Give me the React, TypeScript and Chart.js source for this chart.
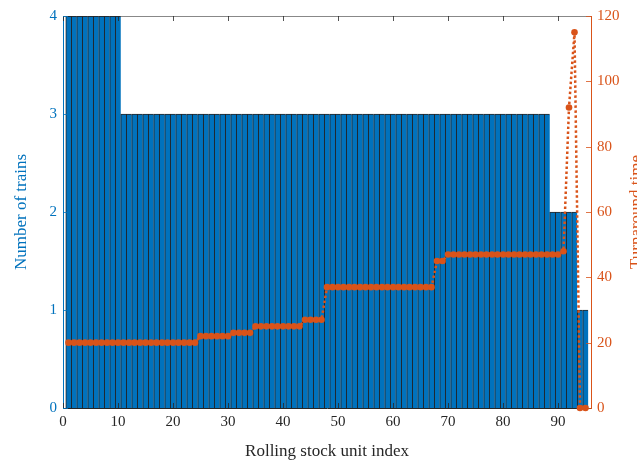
import React, { useEffect, useRef } from "react";
import { Chart, registerables } from "chart.js";

Chart.register(...registerables);

const unitIndex = [
  1, 2, 3, 4, 5, 6, 7, 8, 9, 10,
  11, 12, 13, 14, 15, 16, 17, 18, 19, 20,
  21, 22, 23, 24, 25, 26, 27, 28, 29, 30,
  31, 32, 33, 34, 35, 36, 37, 38, 39, 40,
  41, 42, 43, 44, 45, 46, 47, 48, 49, 50,
  51, 52, 53, 54, 55, 56, 57, 58, 59, 60,
  61, 62, 63, 64, 65, 66, 67, 68, 69, 70,
  71, 72, 73, 74, 75, 76, 77, 78, 79, 80,
  81, 82, 83, 84, 85, 86, 87, 88, 89, 90,
  91, 92, 93, 94, 95,
];

const numberOfTrains = [
  4, 4, 4, 4, 4, 4, 4, 4, 4, 4,
  3, 3, 3, 3, 3, 3, 3, 3, 3, 3,
  3, 3, 3, 3, 3, 3, 3, 3, 3, 3,
  3, 3, 3, 3, 3, 3, 3, 3, 3, 3,
  3, 3, 3, 3, 3, 3, 3, 3, 3, 3,
  3, 3, 3, 3, 3, 3, 3, 3, 3, 3,
  3, 3, 3, 3, 3, 3, 3, 3, 3, 3,
  3, 3, 3, 3, 3, 3, 3, 3, 3, 3,
  3, 3, 3, 3, 3, 3, 3, 3, 2, 2,
  2, 2, 2, 1, 1,
];

const turnaroundTime = [
  20, 20, 20, 20, 20, 20, 20, 20, 20, 20,
  20, 20, 20, 20, 20, 20, 20, 20, 20, 20,
  20, 20, 20, 20, 22, 22, 22, 22, 22, 22,
  23, 23, 23, 23, 25, 25, 25, 25, 25, 25,
  25, 25, 25, 27, 27, 27, 27, 37, 37, 37,
  37, 37, 37, 37, 37, 37, 37, 37, 37, 37,
  37, 37, 37, 37, 37, 37, 37, 45, 45, 47,
  47, 47, 47, 47, 47, 47, 47, 47, 47, 47,
  47, 47, 47, 47, 47, 47, 47, 47, 47, 47,
  48, 92, 115, 0, 0,
];

const xTicks = [0, 10, 20, 30, 40, 50, 60, 70, 80, 90];
const leftTicks = [0, 1, 2, 3, 4];
const rightTicks = [0, 20, 40, 60, 80, 100, 120];

const BLUE = "#0072BD";
const ORANGE = "#D95319";
const DARK = "#262626";
const FONT = "'Liberation Serif', 'Times New Roman', serif";

const decorPlugin = {
  id: "decor",
  afterDraw(chart: any) {
    const { ctx, chartArea } = chart;
    const { left, right, top, bottom } = chartArea;
    const xs = chart.scales.x;
    const yl = chart.scales.y;
    const yr = chart.scales.y1;
    const len = 5;
    ctx.save();
    ctx.strokeStyle = "rgba(38,38,38,0.55)";
    ctx.lineWidth = 1;
    ctx.beginPath();
    ctx.moveTo(left, top + 0.5);
    ctx.lineTo(right, top + 0.5);
    ctx.stroke();
    ctx.strokeStyle = DARK;
    ctx.lineWidth = 0.8;
    for (const v of xTicks) {
      const px = Math.round(xs.getPixelForValue(v)) + 0.5;
      ctx.beginPath();
      ctx.moveTo(px, bottom);
      ctx.lineTo(px, bottom - len);
      ctx.moveTo(px, top);
      ctx.lineTo(px, top + len);
      ctx.stroke();
    }
    ctx.strokeStyle = BLUE;
    for (const v of leftTicks) {
      const py = Math.round(yl.getPixelForValue(v)) + 0.5;
      ctx.beginPath();
      ctx.moveTo(left, py);
      ctx.lineTo(left + len, py);
      ctx.stroke();
    }
    ctx.strokeStyle = ORANGE;
    for (const v of rightTicks) {
      const py = Math.round(yr.getPixelForValue(v)) + 0.5;
      ctx.beginPath();
      ctx.moveTo(right, py);
      ctx.lineTo(right - len, py);
      ctx.stroke();
    }
    ctx.translate(637, (top + bottom) / 2);
    ctx.rotate(-Math.PI / 2);
    ctx.fillStyle = ORANGE;
    ctx.font = `17px ${FONT}`;
    ctx.textAlign = "center";
    ctx.textBaseline = "middle";
    ctx.fillText("Turnaround time", 0, 0);
    ctx.restore();
  },
};

export default function App() {
  const ref = useRef<HTMLCanvasElement>(null);

  useEffect(() => {
    document.body.style.margin = "0";
    const canvas = ref.current;
    if (!canvas) return;
    const chart = new Chart(canvas, {
      type: "bar",
      data: {
        datasets: [
          {
            type: "line",
            label: "Turnaround time",
            data: unitIndex.map((x, i) => ({ x, y: turnaroundTime[i] })),
            yAxisID: "y1",
            borderColor: ORANGE,
            backgroundColor: ORANGE,
            borderWidth: 2.5,
            borderDash: [2.5, 2.5],
            pointRadius: 3.3,
            pointBorderWidth: 0,
            pointBackgroundColor: ORANGE,
            tension: 0,
            clip: false,
            order: 0,
          } as any,
          {
            type: "bar",
            label: "Number of trains",
            data: unitIndex.map((x, i) => ({ x, y: numberOfTrains[i] })),
            yAxisID: "y",
            backgroundColor: BLUE,
            borderColor: "rgba(0,0,0,0.85)",
            borderWidth: { left: 1, top: 1, right: 0, bottom: 0 },
            borderSkipped: false,
            barPercentage: 1,
            categoryPercentage: 1,
            order: 1,
          } as any,
        ],
      },
      options: {
        responsive: false,
        animation: false,
        layout: { padding: { top: 16, left: 0, right: 0, bottom: 0 } },
        plugins: {
          legend: { display: false },
          tooltip: { enabled: false },
        },
        scales: {
          x: {
            type: "linear",
            min: 0,
            max: 96,
            offset: false,
            grid: { display: false, drawTicks: false },
            border: { display: true, color: DARK, width: 1 },
            afterFit: (s: any) => {
              s.height = 55;
            },
            afterBuildTicks: (s: any) => {
              s.ticks = xTicks.map((v) => ({ value: v }));
            },
            ticks: {
              color: DARK,
              font: { family: FONT, size: 15 },
              padding: 5,
              maxRotation: 0,
            },
            title: {
              display: true,
              text: "Rolling stock unit index",
              color: DARK,
              font: { family: FONT, size: 17 },
              padding: { top: 0, bottom: 1 },
            },
          },
          y: {
            type: "linear",
            position: "left",
            min: 0,
            max: 4,
            grid: { display: false, drawTicks: false },
            border: { display: true, color: BLUE, width: 1 },
            afterFit: (s: any) => {
              s.width = 63;
            },
            afterBuildTicks: (s: any) => {
              s.ticks = leftTicks.map((v) => ({ value: v }));
            },
            ticks: {
              color: BLUE,
              font: { family: FONT, size: 15 },
              padding: 6,
            },
            title: {
              display: true,
              text: "Number of trains",
              color: BLUE,
              font: { family: FONT, size: 17 },
              padding: { top: 11.8, bottom: 0 },
            },
          },
          y1: {
            type: "linear",
            position: "right",
            min: 0,
            max: 120,
            grid: { display: false, drawTicks: false },
            border: { display: true, color: ORANGE, width: 1 },
            afterFit: (s: any) => {
              s.width = 46;
            },
            afterBuildTicks: (s: any) => {
              s.ticks = rightTicks.map((v) => ({ value: v }));
            },
            ticks: {
              color: ORANGE,
              font: { family: FONT, size: 15 },
              padding: 6,
            },
          },
        },
      } as any,
      plugins: [decorPlugin],
    });
    return () => chart.destroy();
  }, []);

  return (
    <canvas
      ref={ref}
      width={637}
      height={463}
      style={{ display: "block", width: 637, height: 463 }}
    />
  );
}
